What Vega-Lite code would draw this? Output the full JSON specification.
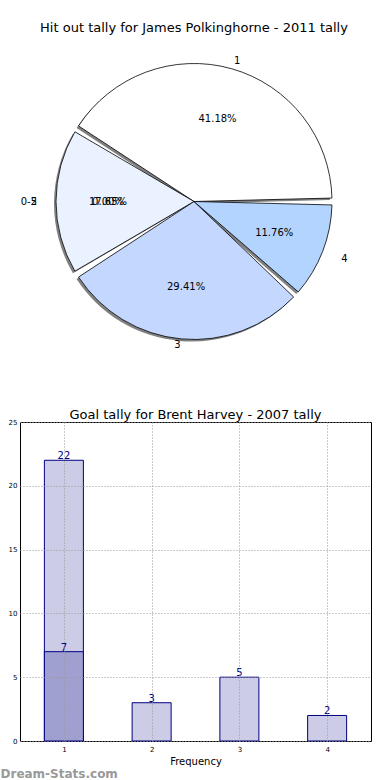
{
  "$schema": "https://vega.github.io/schema/vega-lite/v6.json",
  "padding": {"top": 22, "left": 0, "right": 0, "bottom": 2},
  "background": "white",
  "config": {"font": "DejaVu Sans", "view": {"stroke": null}, "concat": {"spacing": 49}},
  "resolve": {"scale": {"color": "independent"}},
  "title": {"text": "Dream-Stats.com", "orient": "bottom", "anchor": "start", "frame": "bounds", "fontSize": 12, "fontWeight": "bold", "color": "#999999", "offset": 2},
  "vconcat": [
    {
      "width": 348,
      "height": 313,
      "title": {"text": "Hit out tally for James Polkinghorne - 2011 tally", "fontSize": 13, "fontWeight": "normal", "offset": 10},
      "data": {"values": [
        {"cat": "1", "n": 7},
        {"cat": "2", "n": 3, "alias": "0-5", "alias_n": 0},
        {"cat": "3", "n": 5},
        {"cat": "4", "n": 2}
      ]},
      "transform": [
        {"window": [{"op": "row_number", "as": "k"}]},
        {"joinaggregate": [{"op": "sum", "field": "n", "as": "tot"}]},
        {"calculate": "format(datum.n / datum.tot * 100, '.2f') + '%'", "as": "pct"},
        {"calculate": "datum.alias ? format(datum.alias_n / datum.tot * 100, '.2f') + '%' : ''", "as": "apct"},
        {"calculate": "datum.alias ? datum.alias : ''", "as": "alabel"}
      ],
      "encoding": {
        "theta": {"field": "n", "type": "quantitative", "stack": true, "scale": {"range": [1.5708, -4.7124]}},
        "order": {"field": "k", "type": "quantitative"}
      },
      "layer": [
        {"mark": {"type": "arc", "outerRadius": 138, "padAngle": 0.05, "fill": "#808080", "xOffset": -2, "yOffset": 2}},
        {"mark": {"type": "arc", "outerRadius": 138, "padAngle": 0.05, "stroke": "black", "strokeWidth": 0.8},
         "encoding": {"color": {"field": "cat", "type": "nominal", "legend": null,
           "scale": {"domain": ["1", "2", "3", "4"], "range": ["#ffffff", "#eaf2ff", "#c4d8ff", "#b2d4ff"]}}}},
        {"mark": {"type": "text", "radius": 86, "fontSize": 10, "baseline": "middle", "color": "black"},
         "encoding": {"text": {"field": "pct"}}},
        {"mark": {"type": "text", "radius": 86, "fontSize": 10, "baseline": "middle", "color": "black"},
         "encoding": {"text": {"field": "apct"}, "size": {"condition": {"test": "datum.alias", "value": 10}, "value": 0}}},
        {"mark": {"type": "text", "radius": 158, "baseline": "middle", "align": "left", "color": "black"},
         "encoding": {"text": {"condition": {"test": "datum.cat == '4'", "field": "cat"}, "value": ""},
                      "size": {"condition": {"test": "datum.cat == '4'", "value": 10}, "value": 0}}},
        {"mark": {"type": "text", "radius": 146, "baseline": "middle", "align": "left", "color": "black"},
         "encoding": {"text": {"condition": {"test": "datum.cat == '1'", "field": "cat"}, "value": ""},
                      "size": {"condition": {"test": "datum.cat == '1'", "value": 10}, "value": 0}}},
        {"mark": {"type": "text", "radius": 157, "baseline": "middle", "align": "right", "color": "black"},
         "encoding": {"text": {"condition": {"test": "datum.cat == '2'", "field": "cat"}, "value": ""},
                      "size": {"condition": {"test": "datum.cat == '2'", "value": 10}, "value": 0}}},
        {"mark": {"type": "text", "radius": 157, "baseline": "middle", "align": "right", "color": "black"},
         "encoding": {"text": {"field": "alabel"},
                      "size": {"condition": {"test": "datum.alias", "value": 10}, "value": 0}}},
        {"mark": {"type": "text", "radius": 144, "baseline": "middle", "align": "right", "color": "black"},
         "encoding": {"text": {"condition": {"test": "datum.cat == '3'", "field": "cat"}, "value": ""},
                      "size": {"condition": {"test": "datum.cat == '3'", "value": 10}, "value": 0}}}
      ]
    },
    {
      "width": 351,
      "height": 319,
      "view": {"stroke": "black", "strokeWidth": 1},
      "title": {"text": "Goal tally for Brent Harvey - 2007 tally", "fontSize": 13, "fontWeight": "normal", "frame": "group", "offset": -4},
      "data": {"values": [
        {"freq": 1, "goals": 22, "series": "all"},
        {"freq": 2, "goals": 3, "series": "all"},
        {"freq": 3, "goals": 5, "series": "all"},
        {"freq": 4, "goals": 2, "series": "all"},
        {"freq": 1, "goals": 7, "series": "sub"}
      ]},
      "encoding": {
        "x": {"field": "freq", "type": "quantitative",
          "scale": {"domain": [0.5, 4.5], "nice": false, "zero": false, "padding": 0},
          "axis": {"values": [1, 2, 3, 4], "title": "Frequency", "titleFontSize": 10, "titleFontWeight": "normal", "titleColor": "black",
            "labelFontSize": 7, "labelColor": "black", "grid": true, "gridDash": [1, 2], "gridColor": "#999999", "domain": false,
            "tickSize": 0, "labelPadding": 4, "titlePadding": 4, "zindex": 1}},
        "y": {"field": "goals", "type": "quantitative", "stack": null,
          "scale": {"domain": [0, 25], "nice": false, "padding": 0},
          "axis": {"values": [0, 5, 10, 15, 20, 25], "title": null, "labelFontSize": 7, "labelColor": "black",
            "grid": true, "gridDash": [1, 2], "gridColor": "#999999", "domain": false, "tickSize": 0, "labelPadding": 3,
            "minExtent": 19, "maxExtent": 19, "zindex": 1}}
      },
      "layer": [
        {"mark": {"type": "bar", "width": 39, "stroke": "#000080", "strokeWidth": 1},
         "encoding": {"color": {"field": "series", "type": "nominal", "legend": null,
           "scale": {"domain": ["all", "sub"], "range": ["#ccccE6", "#a0a0d0"]}}}},
        {"mark": {"type": "text", "baseline": "bottom", "dy": 1, "fontSize": 10, "color": "#000080"},
         "encoding": {"text": {"field": "goals", "type": "quantitative"}}}
      ]
    }
  ]
}
